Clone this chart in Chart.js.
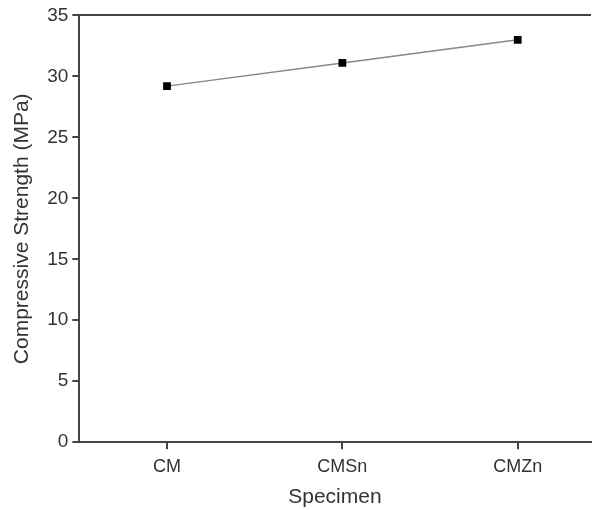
<!DOCTYPE html>
<html lang="en">
<head>
  <meta charset="UTF-8">
  <title>Compressive Strength</title>
  <script src="https://cdn.jsdelivr.net/npm/chart.js"></script>
  <style>
    html, body { margin: 0; padding: 0; background: #fff; }
    #wrap { width: 596px; height: 510px; }
  </style>
  <script>
    // data
    var specimens = ['CM', 'CMSn', 'CMZn'];
    var strength = [29.2, 31.1, 33.0];
    var yTicks = [0, 5, 10, 15, 20, 25, 30, 35];

    document.addEventListener("DOMContentLoaded", function() {
      var ctx = document.getElementById('chart').getContext('2d');
      var axisColor = '#444';
      var textColor = '#333';

      var points = strength.map(function(v, i) { return { x: i, y: v }; });

      new Chart(ctx, {
        type: 'line',
        data: {
          datasets: [{
            data: points,
            borderColor: '#888',
            borderWidth: 1.5,
            pointStyle: 'rect',
            pointRadius: 5.5,
            pointBackgroundColor: '#000',
            pointBorderColor: '#000',
            pointBorderWidth: 0,
            tension: 0
          }]
        },
        options: {
          responsive: false,
          animation: false,
          layout: { padding: { top: 6, right: 0, left: 10, bottom: 0 } },
          plugins: { legend: { display: false }, tooltip: { enabled: false } },
          scales: {
            x: {
              type: 'linear',
              min: -0.5,
              max: 2.415,
              afterBuildTicks: function(axis) {
                axis.ticks = specimens.map(function(s, i) { return { value: i }; });
              },
              ticks: {
                callback: function(v) { return specimens[v]; },
                color: textColor,
                font: { family: 'Liberation Sans', size: 18 },
                padding: 7,
                maxRotation: 0
              },
              grid: { drawOnChartArea: false, drawTicks: true, tickLength: 7, color: axisColor, lineWidth: 2 },
              border: { display: true, color: axisColor, width: 2 },
              title: {
                display: true,
                text: 'Specimen',
                color: textColor,
                font: { family: 'Liberation Sans', size: 21 },
                padding: { top: 0, bottom: 0 }
              }
            },
            xTop: {
              type: 'linear',
              position: 'top',
              min: -0.5,
              max: 2.415,
              ticks: { display: false },
              grid: { display: false },
              border: { display: true, color: axisColor, width: 2 }
            },
            y: {
              min: 0,
              max: 35,
              afterBuildTicks: function(axis) {
                axis.ticks = yTicks.map(function(v) { return { value: v }; });
              },
              ticks: {
                color: textColor,
                font: { family: 'Liberation Sans', size: 19 },
                padding: 4
              },
              grid: { drawOnChartArea: false, drawTicks: true, tickLength: 7, color: axisColor, lineWidth: 2 },
              border: { display: true, color: axisColor, width: 2 },
              title: {
                display: true,
                text: 'Compressive Strength (MPa)',
                color: textColor,
                font: { family: 'Liberation Sans', size: 21 },
                padding: { top: 0, bottom: 8 }
              }
            }
          }
        }
      });
    });
  </script>
</head>
<body>
  <div id="wrap">
    <canvas id="chart" width="596" height="510"></canvas>
  </div>
</body>
</html>
